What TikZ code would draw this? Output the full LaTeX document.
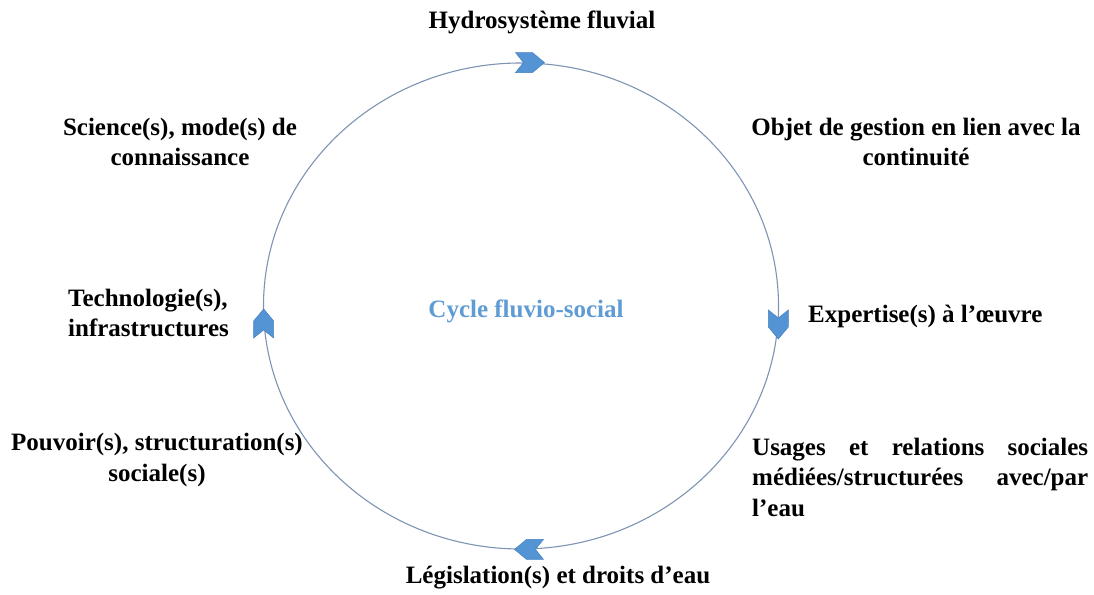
\documentclass[tikz,border=0pt]{standalone}
\usepackage{fontspec}
\setmainfont{Liberation Serif}
\usetikzlibrary{shapes.geometric,positioning}

\definecolor{ringline}{RGB}{125,148,178}
\definecolor{chevblue}{RGB}{84,148,212}
\definecolor{chevedge}{RGB}{70,128,190}
\definecolor{cycleblue}{RGB}{96,156,212}

\tikzset{
  topic/.style={font=\bfseries\fontsize{25}{30.5}\selectfont, inner sep=0pt},
  chevron/.pic={
    \filldraw[fill=chevblue,draw=chevedge,line width=0.5pt]
      (-14,10) -- (3,10) -- (15,0) -- (3,-10) -- (-14,-10) -- (-6,0) -- cycle;}
}

\begin{document}
\begin{tikzpicture}[x=1pt,y=1pt]
\useasboundingbox (0,0) rectangle (1094,594);

\node[ellipse, draw=ringline, line width=1.1pt, minimum width=515pt,
      minimum height=486pt, inner sep=0pt] (cycle) at (521,288) {};

\foreach \ang/\rot in {88/0, 356/-90, 272/180, 184/90}
  \pic[rotate=\rot] at (cycle.\ang) {chevron};

\node[topic, text=cycleblue] (centre) at (526,283) {Cycle fluvio-social};

\node[topic] (hydro) at (542,572) {Hydrosystème fluvial};
\node[topic, align=center] (science) at (180,452) {Science(s), mode(s) de\\ connaissance};
\node[topic, align=center] (objet) at (916,452) {Objet de gestion en lien avec la\\ continuité};
\node[topic, anchor=west, align=left] (techno) at (68,281) {Technologie(s),\\ infrastructures};
\node[topic, anchor=west] (expert) at (808,278) {Expertise(s) à l’œuvre};
\node[topic, align=center] (pouvoir) at (157,134) {Pouvoir(s), structuration(s)\\ sociale(s)};
\node[topic, anchor=west, text width=336pt, align=left] (usages) at (752,117)
  {Usages \hfill et \hfill relations \hfill sociales\\ médiées/structurées \hfill avec/par\\ l’eau};
\node[topic] (legis) at (558,16) {Législation(s) et droits d’eau};

\end{tikzpicture}
\end{document}
